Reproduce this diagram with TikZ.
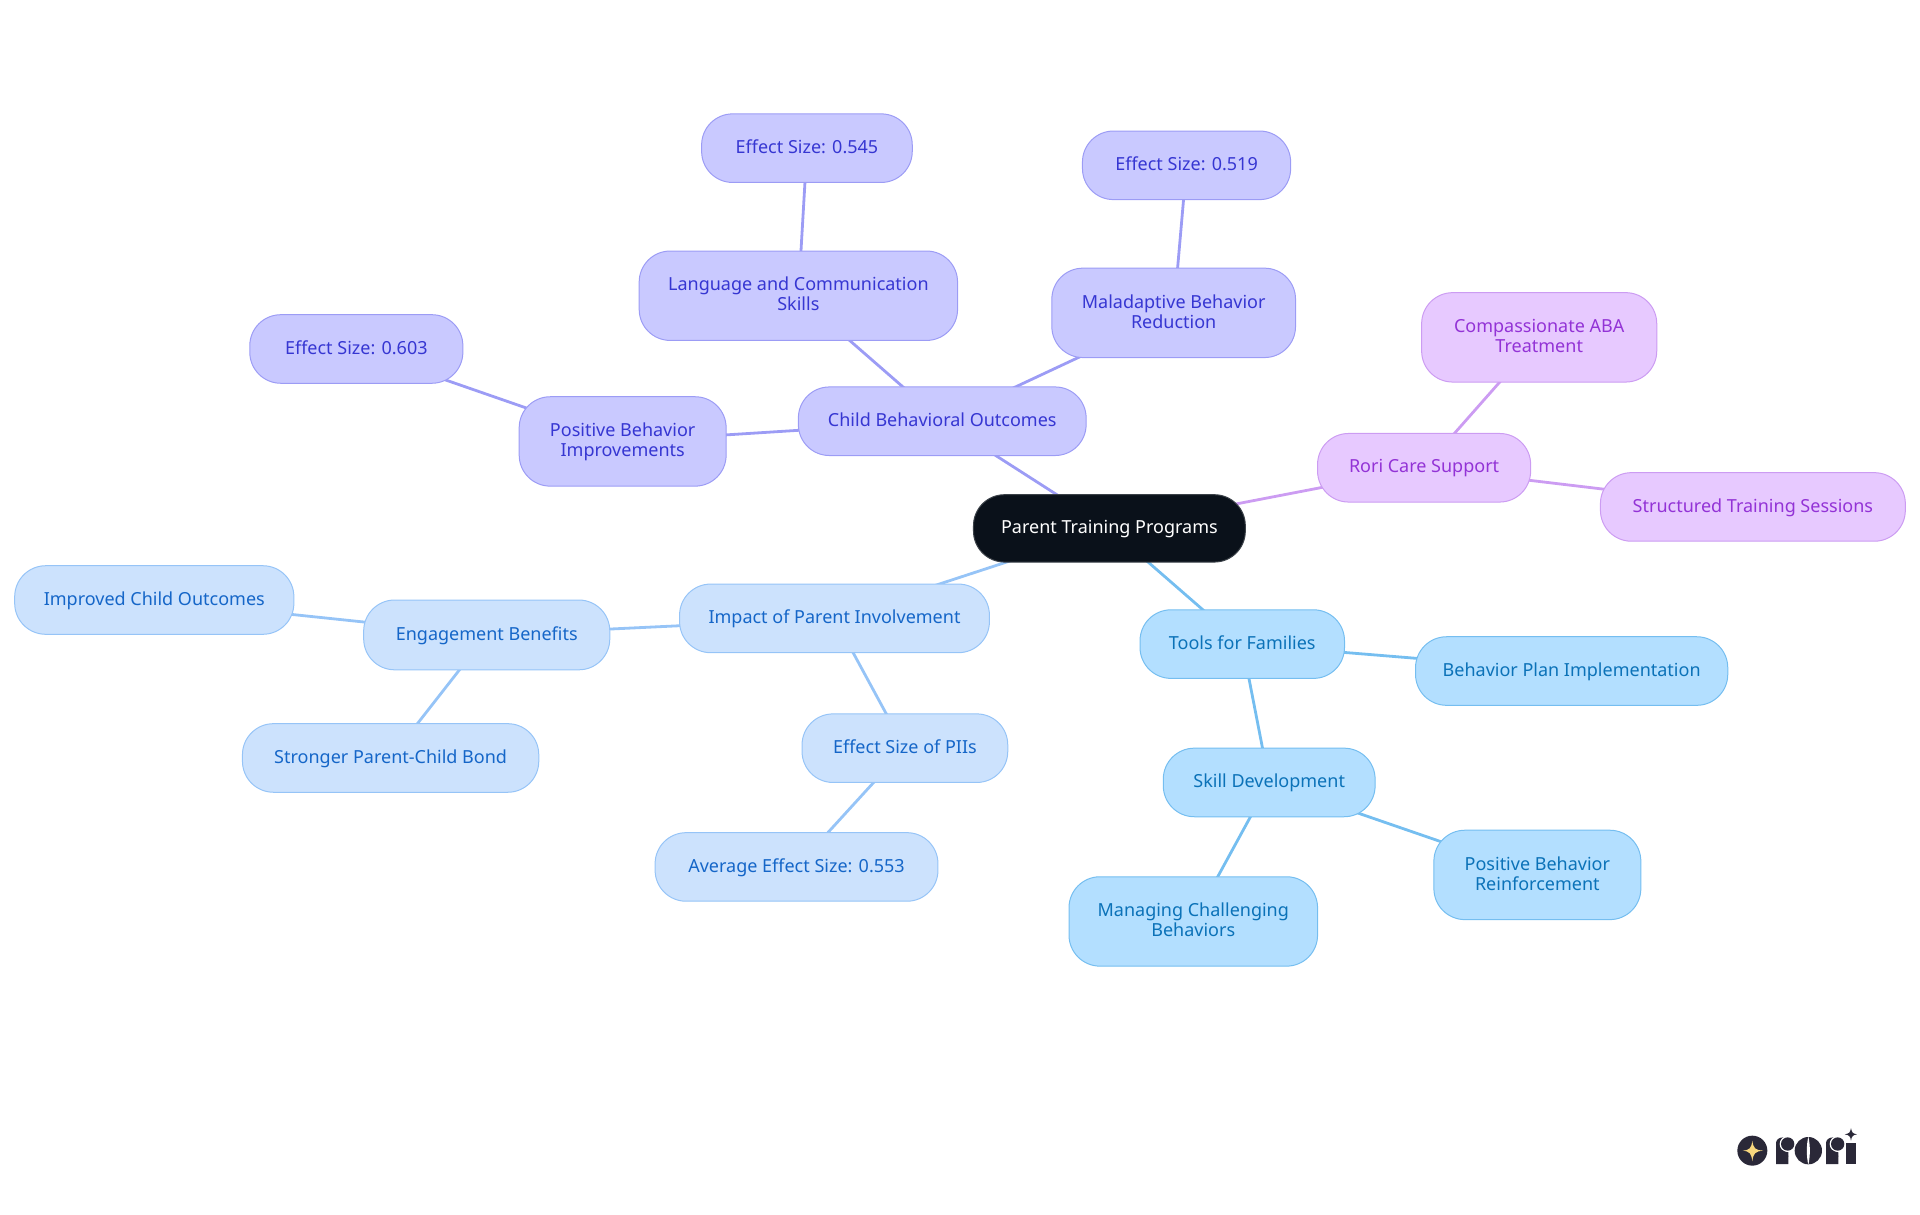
\documentclass[tikz,border=0pt]{standalone}
\usepackage{fontspec}
\setmainfont{Noto Sans}
\usetikzlibrary{backgrounds,calc}
\definecolor{rootfill}{HTML}{0A111A}
\definecolor{vfill}{HTML}{C9C9FF}\definecolor{vline}{HTML}{9C9CF5}\definecolor{vtext}{HTML}{3636D2}
\definecolor{pfill}{HTML}{E7C9FF}\definecolor{pline}{HTML}{CC9CF2}\definecolor{ptext}{HTML}{9333D6}
\definecolor{lfill}{HTML}{CCE2FD}\definecolor{lline}{HTML}{96C4F7}\definecolor{ltext}{HTML}{1566C8}
\definecolor{bfill}{HTML}{B3DFFF}\definecolor{bline}{HTML}{75BEF0}\definecolor{btext}{HTML}{0B72B8}
\definecolor{logodark}{HTML}{2A2838}\definecolor{logostar}{HTML}{F8D77E}
\newcommand{\boxnode}[7]{% style, name, l, r, t, b, text
  \node[#1, minimum width={(#4-#3)*1.2245pt}, minimum height={(#6-#5)*1.2245pt}] (#2) at ({(#3+#4)/2},{(#5+#6)/2}) {\rule{0pt}{15.9pt}#7\rule[-5.5pt]{0pt}{5.5pt}};}
\tikzset{
  base/.style={rounded corners=31pt, draw, line width=1pt, align=center, inner sep=0pt, font=\fontsize{18}{20}\selectfont},
  rootbox/.style={base, fill=rootfill, draw=rootfill!80!white, text=white},
  vbox/.style={base, fill=vfill, draw=vline, text=vtext},
  pbox/.style={base, fill=pfill, draw=pline, text=ptext},
  lbox/.style={base, fill=lfill, draw=lline, text=ltext},
  bbox/.style={base, fill=bfill, draw=bline, text=btext},
  link/.style={line width=2.8pt},
  logo/.style={fill=logodark, draw=none}
}
\begin{document}
\begin{tikzpicture}[x=1.2245pt,y=-1.2245pt]
\useasboundingbox (0pt,0pt) rectangle (1920pt,-1215pt);
\boxnode{rootbox}{root}{795}{1017}{404}{459}{Parent Training Programs}
\boxnode{vbox}{child}{652}{887}{316}{372}{Child Behavioral Outcomes}
\boxnode{vbox}{lang}{522}{782}{205}{278}{Language and Communication\\Skills}
\boxnode{vbox}{mal}{859}{1058}{219}{292}{Maladaptive Behavior\\Reduction}
\boxnode{vbox}{posb}{424}{593}{324}{397}{Positive Behavior\\Improvements}
\boxnode{vbox}{ea}{573}{745}{93}{149}{Effect Size: 0.545}
\boxnode{vbox}{eb}{884}{1054}{107}{163}{Effect Size: 0.519}
\boxnode{vbox}{ec}{204}{378}{257}{313}{Effect Size: 0.603}
\boxnode{pbox}{rori}{1076}{1250}{354}{410}{Rori Care Support}
\boxnode{pbox}{comp}{1161}{1353}{239}{312}{Compassionate ABA\\Treatment}
\boxnode{pbox}{struct}{1307}{1556}{386}{442}{Structured Training Sessions}
\boxnode{lbox}{impact}{555}{808}{477}{533}{Impact of Parent Involvement}
\boxnode{lbox}{engage}{297}{498}{490}{547}{Engagement Benefits}
\boxnode{lbox}{improved}{12}{240}{462}{518}{Improved Child Outcomes}
\boxnode{lbox}{stronger}{198}{440}{591}{647}{Stronger Parent-Child Bond}
\boxnode{lbox}{pii}{655}{823}{583}{639}{Effect Size of PIIs}
\boxnode{lbox}{avg}{535}{766}{680}{736}{Average Effect Size: 0.553}
\boxnode{bbox}{tools}{931}{1098}{498}{554}{Tools for Families}
\boxnode{bbox}{plan}{1156}{1411}{520}{576}{Behavior Plan Implementation}
\boxnode{bbox}{skill}{950}{1123}{611}{667}{Skill Development}
\boxnode{bbox}{reinf}{1171}{1340}{678}{751}{Positive Behavior\\Reinforcement}
\boxnode{bbox}{manage}{873}{1076}{716}{789}{Managing Challenging\\Behaviors}
\begin{pgfonlayer}{background}
\draw[link,vline] (root.center)--(child.center);
\draw[link,vline] (child.center)--(lang.center);
\draw[link,vline] (child.center)--(mal.center);
\draw[link,vline] (child.center)--(posb.center);
\draw[link,vline] (lang.center)--(ea.center);
\draw[link,vline] (mal.center)--(eb.center);
\draw[link,vline] (posb.center)--(ec.center);
\draw[link,pline] (root.center)--(rori.center);
\draw[link,pline] (rori.center)--(comp.center);
\draw[link,pline] (rori.center)--(struct.center);
\draw[link,lline] (root.center)--(impact.center);
\draw[link,lline] (impact.center)--(engage.center);
\draw[link,lline] (impact.center)--(pii.center);
\draw[link,lline] (engage.center)--(improved.center);
\draw[link,lline] (engage.center)--(stronger.center);
\draw[link,lline] (pii.center)--(avg.center);
\draw[link,bline] (root.center)--(tools.center);
\draw[link,bline] (tools.center)--(plan.center);
\draw[link,bline] (tools.center)--(skill.center);
\draw[link,bline] (skill.center)--(reinf.center);
\draw[link,bline] (skill.center)--(manage.center);
\end{pgfonlayer}
% logo, in the 3x coordinates of the crop at (1700,1100)
\begin{scope}[shift={(1700pt,-1100pt)},x=0.3333pt,y=-0.3333pt]
\fill[logo] (157,152) circle (45);
\fill[logostar] (157,122) .. controls (160,145) and (165,150) .. (190,152) .. controls (165,154) and (160,160) .. (157,184) .. controls (154,160) and (149,154) .. (128,152) .. controls (149,150) and (154,145) .. (157,122) -- cycle;
% r
\fill[logo] (228,192) -- (228,130) .. controls (228,120) and (236,112) .. (250,112) -- (262,125) -- (265,160) -- (265,192) -- cycle;
\fill[white] (263,132) circle (24);
\fill[logo] (263,132) circle (20);
\fill[logo] (246,150) .. controls (254,156) and (265,158) .. (265,170) -- (240,170) -- cycle;
% o
\fill[logo] (325,152) circle (41);
\fill[white] (325,110) .. controls (319,135) and (319,170) .. (325,194) .. controls (331,170) and (331,135) .. (325,110) -- cycle;
% r
\fill[logo] (378,192) -- (378,130) .. controls (378,120) and (386,112) .. (400,112) -- (412,125) -- (415,160) -- (415,192) -- cycle;
\fill[white] (413,132) circle (24);
\fill[logo] (413,132) circle (20);
\fill[logo] (396,150) .. controls (404,156) and (415,158) .. (415,170) -- (390,170) -- cycle;
% i
\fill[logo] (438,192) -- (438,128) -- (469,128) -- (469,192) -- cycle;
% small star
\fill[logo] (453,84) .. controls (455,97) and (458,101) .. (471,103) .. controls (458,105) and (455,109) .. (453,122) .. controls (451,109) and (448,105) .. (434,103) .. controls (448,101) and (451,97) .. (453,84) -- cycle;
\end{scope}
\end{tikzpicture}
\end{document}
